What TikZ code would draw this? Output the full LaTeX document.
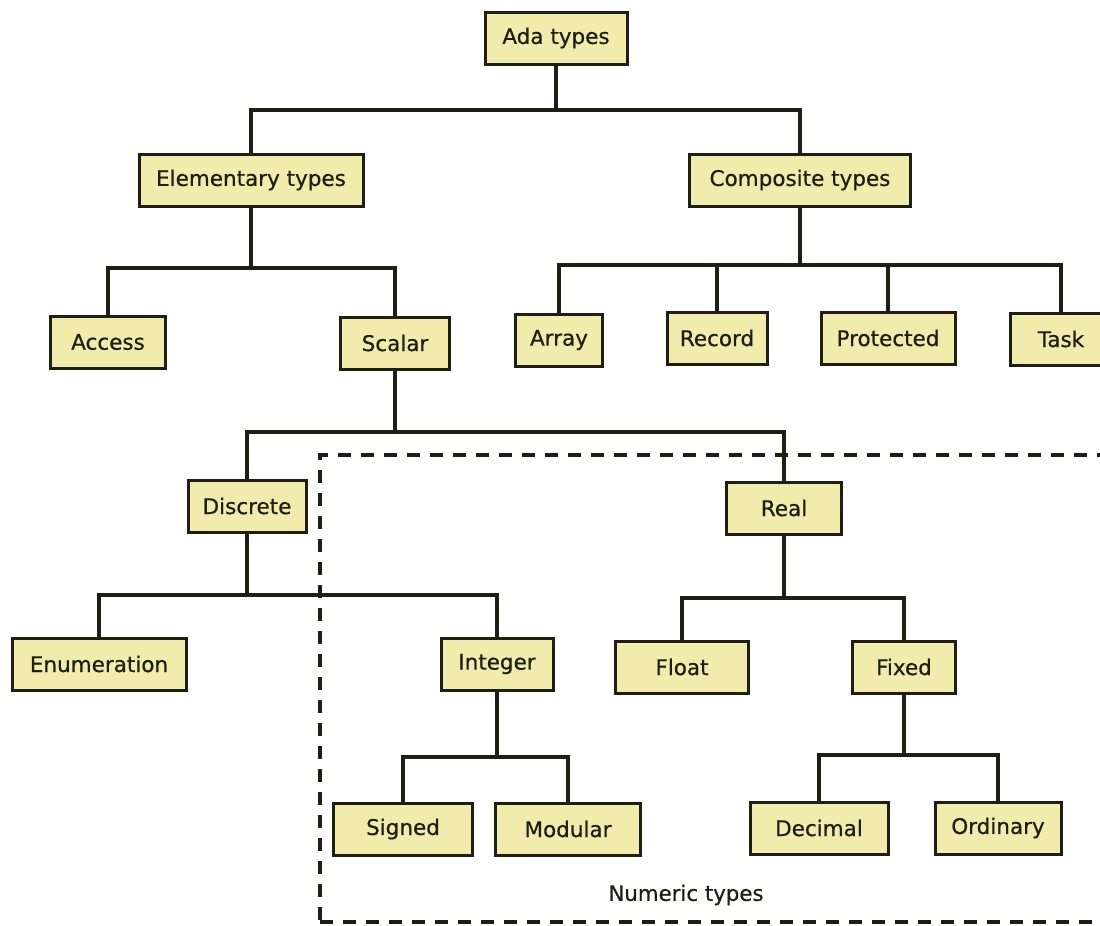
\documentclass[tikz,border=0pt]{standalone}
\usepackage{fontspec}
\setmainfont{DejaVu Sans}
\newfontfamily\boxfont[BoldFont=DejaVu Sans,BoldFeatures={FakeBold=0.6}]{DejaVu Sans}
\definecolor{boxfill}{RGB}{242,236,172}
\definecolor{ink}{RGB}{30,30,20}
\begin{document}
\begin{tikzpicture}[x=1pt,y=-1pt,
  box/.style={draw=ink,fill=boxfill,line width=3pt,minimum height=52pt,inner sep=0pt,
    font=\boxfont\bfseries\fontsize{21.5}{25}\selectfont,text=ink},
  conn/.style={draw=ink,line width=3.2pt},
  dashbox/.style={draw=ink,line width=3.2pt,dash pattern=on 13pt off 10pt}]
\useasboundingbox (0,0) rectangle (1100,926);
% dashed region
\draw[dashbox] (1110,455) -- (320,455) -- (320,926);
\draw[dashbox] (320,922) -- (1110,922);
\node[font=\boxfont\bfseries\fontsize{21.3}{25}\selectfont,text=ink] (numlbl) at (686,895) {Numeric types};
% nodes
\node[box,minimum width=142pt] (ada) at (556,38) {Ada types};
\node[box,minimum width=224pt] (elem) at (251,180) {Elementary types};
\node[box,minimum width=221pt] (comp) at (800,180) {Composite types};
\node[box,minimum width=115pt] (access) at (108,342) {Access};
\node[box,minimum width=109pt] (scalar) at (395,343) {Scalar};
\node[box,minimum width=87pt] (array) at (559,340) {Array};
\node[box,minimum width=100pt] (record) at (717,338) {Record};
\node[box,minimum width=134pt] (prot) at (888,338) {Protected};
\node[box,minimum width=102pt] (task) at (1061,339) {Task};
\node[box,minimum width=118pt] (discrete) at (247,506) {Discrete};
\node[box,minimum width=115pt] (real) at (784,508) {Real};
\node[box,minimum width=174pt] (enum) at (99,664) {Enumeration};
\node[box,minimum width=112pt] (integer) at (497,664) {Integer};
\node[box,minimum width=133pt] (float) at (682,667) {Float};
\node[box,minimum width=103pt] (fixed) at (904,667) {Fixed};
\node[box,minimum width=139pt] (signed) at (403,829) {Signed};
\node[box,minimum width=145pt] (modular) at (568,829) {Modular};
\node[box,minimum width=138pt] (decimal) at (819,828) {Decimal};
\node[box,minimum width=126pt] (ordinary) at (998,828) {Ordinary};
% connectors
\draw[conn] (elem.north) |- (ada.south |- 0,110) -| (comp.north);
\draw[conn] (ada.south) -- (ada.south |- 0,110);
\draw[conn] (access.north) |- (elem.south |- 0,268) -| (scalar.north);
\draw[conn] (elem.south) -- (elem.south |- 0,268);
\draw[conn] (array.north) |- (comp.south |- 0,265) -| (task.north);
\draw[conn] (comp.south) -- (comp.south |- 0,265);
\draw[conn] (record.north) -- (record.north |- 0,265);
\draw[conn] (prot.north) -- (prot.north |- 0,265);
\draw[conn] (discrete.north) |- (scalar.south |- 0,432) -| (real.north);
\draw[conn] (scalar.south) -- (scalar.south |- 0,432);
\draw[conn] (enum.north) |- (discrete.south |- 0,595) -| (integer.north);
\draw[conn] (discrete.south) -- (discrete.south |- 0,595);
\draw[conn] (float.north) |- (real.south |- 0,598) -| (fixed.north);
\draw[conn] (real.south) -- (real.south |- 0,598);
\draw[conn] (signed.north) |- (integer.south |- 0,757) -| (modular.north);
\draw[conn] (integer.south) -- (integer.south |- 0,757);
\draw[conn] (decimal.north) |- (fixed.south |- 0,755) -| (ordinary.north);
\draw[conn] (fixed.south) -- (fixed.south |- 0,755);
\end{tikzpicture}
\end{document}
